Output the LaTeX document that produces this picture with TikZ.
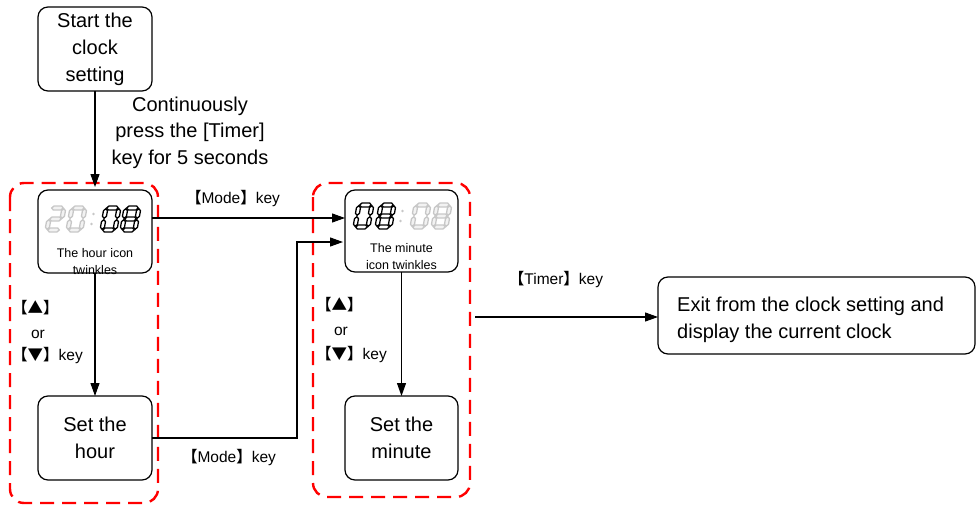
\documentclass[tikz,border=0pt]{standalone}
\usepackage{fontspec}
\setmainfont{Liberation Sans}
\newfontfamily\cjk{Noto Sans CJK SC}
\newfontfamily\cjkb{Noto Sans CJK SC Bold}
\usetikzlibrary{arrows.meta}
\def\sh{2}
\newcommand\hseg[4]{\filldraw[#4] (#1,#3) -- ++(\sh,\sh) -- ({#2-\sh},{#3+\sh}) -- (#2,#3) -- ({#2-\sh},{#3-\sh}) -- ({#1+\sh},{#3-\sh}) -- cycle;}
\newcommand\vseg[4]{\filldraw[#4] (#1,#2) -- ++(\sh,\sh) -- ({#1+\sh},{#3-\sh}) -- (#1,#3) -- ({#1-\sh},{#3-\sh}) -- ({#1-\sh},{#2+\sh}) -- cycle;}
\newcommand\segA[1]{\hseg{0.7}{12.3}{22}{#1}}
\newcommand\segG[1]{\hseg{0.7}{12.3}{11}{#1}}
\newcommand\segD[1]{\hseg{0.7}{12.3}{0}{#1}}
\newcommand\segF[1]{\vseg{0}{11.7}{21.3}{#1}}
\newcommand\segB[1]{\vseg{13}{11.7}{21.3}{#1}}
\newcommand\segE[1]{\vseg{0}{0.7}{10.3}{#1}}
\newcommand\segC[1]{\vseg{13}{0.7}{10.3}{#1}}
\newcommand\sevenseg[4]{%
  \begin{scope}[shift={(#1,#2)},xslant=0.18]
    \foreach \s in {#3} {\csname seg\s\endcsname{#4}}
  \end{scope}}
\newcommand\colondots[3]{%
  \fill[#3] (#1,#2) circle (1.4);
  \fill[#3] ({#1+2},{#2+10}) circle (1.4);}
\tikzset{
  box/.style={draw, line width=1.2pt, rounded corners=10pt, inner sep=0pt, outer sep=0pt, align=center},
  bigtxt/.style={font=\fontsize{20}{27}\selectfont},
  smalltxt/.style={font=\fontsize{12.5}{17}\selectfont, align=center},
  keytxt/.style={font=\fontsize{15.5}{18}\selectfont},
  arr/.style={line width=1.1pt, -{Triangle[length=13pt,width=9pt]}},
  region/.style={draw=red, line width=2.4pt, dash pattern=on 14pt off 8pt, rounded corners=14pt},
  lit/.style={draw=black, fill=white, line width=1.3pt},
  dim/.style={draw=black!22, fill=black!5, line width=1.3pt},
  dimdot/.style={fill=black!22}
}
\newcommand\lb{{\cjkb 【}}
\newcommand\rb{{\cjkb 】}}
\begin{document}
\begin{tikzpicture}[x=1pt,y=1pt]
\useasboundingbox (0,0) rectangle (976,-508);
% dashed regions
\draw[region] (10,-183) rectangle (158,-503);
\draw[region] (313,-183) rectangle (470,-497);
% nodes
\node[box, bigtxt, minimum width=114pt, minimum height=84pt] (start) at (95,-49) {Start the\\clock\\setting};
\node[box, minimum width=114pt, minimum height=83pt] (hd) at (95,-231.5) {};
\node[box, bigtxt, minimum width=114pt, minimum height=84pt] (sh) at (95,-438) {Set the\\hour};
\node[box, minimum width=113pt, minimum height=82pt] (md) at (401.5,-231) {};
\node[box, bigtxt, minimum width=113pt, minimum height=84pt] (sm) at (401.5,-438) {Set the\\minute};
\node[box, minimum width=317pt, minimum height=77pt] (exit) at (816.5,-315.5) {};
\node[bigtxt, align=left, anchor=west, inner sep=0pt] (exittxt) at (677,-319.5) {Exit from the clock setting and\\display the current clock};
% hour display
\sevenseg{47}{-230}{A,B,G,E,D}{dim}
\sevenseg{68}{-230}{A,B,C,D,E,F}{dim}
\colondots{91.5}{-224}{dimdot}
\sevenseg{102}{-230}{A,B,C,D,E,F}{lit}
\sevenseg{122}{-230}{A,B,C,D,E,F,G}{lit}
\node[smalltxt] (hdtxt) at (95,-261.5) {The hour icon\\twinkles};
% minute display
\sevenseg{355}{-227}{A,B,C,D,E,F}{lit}
\sevenseg{377}{-227}{A,B,C,D,E,F,G}{lit}
\colondots{400.5}{-221}{dimdot}
\sevenseg{412}{-227}{A,B,C,D,E,F}{dim}
\sevenseg{433}{-227}{A,B,C,D,E,F,G}{dim}
\node[smalltxt] (mdtxt) at (401.5,-257) {The minute\\icon twinkles};
% connectors
\draw[arr] (start.south) -- ([yshift=3pt]hd.north);
\node[bigtxt, align=center, font=\fontsize{20}{26.5}\selectfont] (cont) at (190,-132.5) {Continuously\\press the [Timer]\\key for 5 seconds};
\draw[arr] (hd.south) -- (sh.north);
\draw[arr] (md.south) -- (sm.north);
\draw[arr] ([yshift=13.5pt]hd.east) -- ([yshift=13pt]md.west);
\node[keytxt] (mode1) at (233,-199) {\lb Mode\rb key};
\coordinate (turn) at (297,-242);
\draw[arr] (sh.east) -| (turn) -- ([xshift=-2pt]md.west |- turn);
\node[keytxt] (mode2) at (229,-457) {\lb Mode\rb key};
\node[keytxt, anchor=west, inner sep=0pt] (up1) at (12,-308) {\cjkb 【▲】};
\node[keytxt] (or1) at (38,-334) {or};
\node[keytxt, anchor=west, inner sep=0pt] (dn1) at (12,-356) {{\cjkb 【▼】}key};
\node[keytxt, anchor=west, inner sep=0pt] (up2) at (316,-305) {\cjkb 【▲】};
\node[keytxt] (or2) at (341,-331) {or};
\node[keytxt, anchor=west, inner sep=0pt] (dn2) at (316,-355) {{\cjkb 【▼】}key};
\coordinate (tstart) at (475,-317);
\draw[arr] (tstart) -- (exit.west |- tstart);
\node[keytxt] (timer) at (556,-280) {\lb Timer\rb key};
\end{tikzpicture}
\end{document}
